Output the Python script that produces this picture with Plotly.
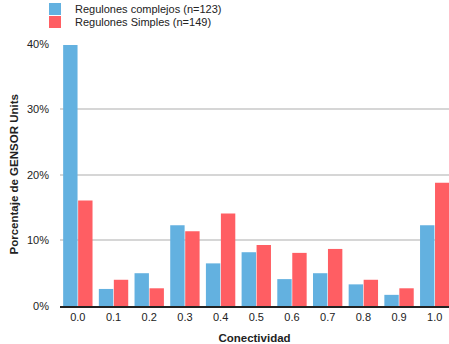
import plotly.graph_objects as go

categorias = ["0.0", "0.1", "0.2", "0.3", "0.4", "0.5", "0.6", "0.7", "0.8", "0.9", "1.0"]
complejos = [39.8, 2.6, 5.0, 12.3, 6.5, 8.2, 4.1, 5.0, 3.3, 1.7, 12.3]
simples = [16.1, 4.0, 2.7, 11.4, 14.1, 9.3, 8.1, 8.7, 4.0, 2.7, 18.8]
y_ticks = [0, 10, 20, 30, 40]
y_tick_labels = ["0%", "10%", "20%", "30%", "40%"]

FONT = "Liberation Sans, Arial, Helvetica, sans-serif"
TXT = "#222"

fig = go.Figure()
fig.add_trace(go.Bar(x=categorias, y=complejos, name="Regulones complejos (n=123)",
                     marker=dict(color="#63B1E0", line=dict(width=0)), legend="legend"))
fig.add_trace(go.Bar(x=categorias, y=simples, name="Regulones Simples (n=149)",
                     marker=dict(color="#FF5E63", line=dict(width=0)), legend="legend2"))

legend_common = dict(xref="container", yref="container", xanchor="left", yanchor="middle",
                     orientation="v", font=dict(size=11, color=TXT), itemwidth=30,
                     bgcolor="rgba(0,0,0,0)", borderwidth=0)

fig.update_layout(
    width=449, height=344,
    margin=dict(l=60, r=0, t=43, b=38, autoexpand=False),
    paper_bgcolor="white", plot_bgcolor="white",
    barmode="group", bargap=0.16, bargroupgap=0.04,
    font=dict(family=FONT, size=11, color=TXT),
    showlegend=True,
    legend=dict(x=35 / 449, y=1 - 9 / 344, **legend_common),
    legend2=dict(x=35 / 449, y=1 - 22 / 344, **legend_common),
    xaxis=dict(type="category", range=[-0.5, 10.4], showgrid=False,
               showline=True, linecolor=TXT, linewidth=2, tickangle=0,
               ticks="", tickfont=dict(size=11, color=TXT),
               title=dict(text="<b>Conectividad</b>", font=dict(size=11.5, color=TXT))),
    yaxis=dict(range=[0, 40.1], tickvals=y_ticks, ticktext=y_tick_labels,
               showgrid=True, gridcolor="#d6d6d6", gridwidth=1.5,
               zeroline=False, showline=False, ticks="", ticklabelstandoff=10,
               tickfont=dict(size=11, color=TXT)),
    annotations=[dict(text="<b>Porcentaje de GENSOR Units</b>", textangle=-90,
                      xref="paper", yref="paper", x=-47 / 389, y=0.5,
                      xanchor="center", yanchor="middle", showarrow=False,
                      font=dict(size=11.5, color=TXT))],
)

fig.write_html("out.html")
